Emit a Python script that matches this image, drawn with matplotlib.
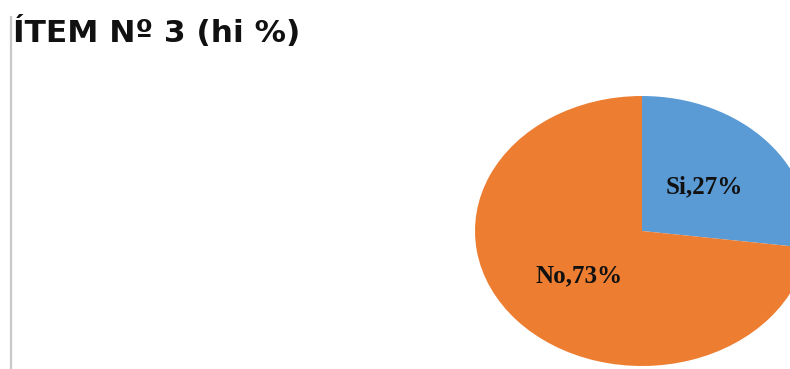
import matplotlib
matplotlib.use("Agg")
import matplotlib.pyplot as plt
from matplotlib.lines import Line2D
import numpy as np

# Survey answers for item 3 (relative frequency, %)
labels = ["Si", "No"]
values = [27, 73]
colors = ["#5B9BD5", "#ED7D31"]
title = "ÍTEM Nº 3 (hi %)"

W, H = 790, 369
fig = plt.figure(figsize=(W / 100, H / 100), dpi=100)
fig.patch.set_facecolor("white")

# Left border line of the chart area
fig.add_artist(Line2D([11 / W, 11 / W], [0, 1 - 17 / H], color="#C8C8C8", lw=1.6))

fig.text(13 / W, 1 - 42 / H, title, fontsize=22.5, fontweight="bold",
         family="DejaVu Sans", ha="left", va="baseline", color="#111111")

# Pie drawn in a non-square axes so it appears as a wide ellipse
cx, cy, rx, ry = 642, 231, 167, 135
ax = fig.add_axes([(cx - rx) / W, (H - cy - ry) / H, 2 * rx / W, 2 * ry / H])
wedges, texts = ax.pie(values, colors=colors, startangle=90, counterclock=False,
                       radius=1.0, wedgeprops=dict(linewidth=0))
ax.set_xlim(-1, 1)
ax.set_ylim(-1, 1)
ax.set_aspect("auto")
ax.axis("off")

# Data labels inside each slice
ang = 90.0
for lab, v in zip(labels, values):
    mid = ang - v * 3.6 / 2
    ang -= v * 3.6
    r = 0.5
    ax.text(r * np.cos(np.radians(mid)), r * np.sin(np.radians(mid)), f"{lab},{v}%",
            ha="center", va="center", fontsize=18, fontweight="bold",
            family="Liberation Serif", color="#111111")

fig.savefig("out.png", dpi=100)
